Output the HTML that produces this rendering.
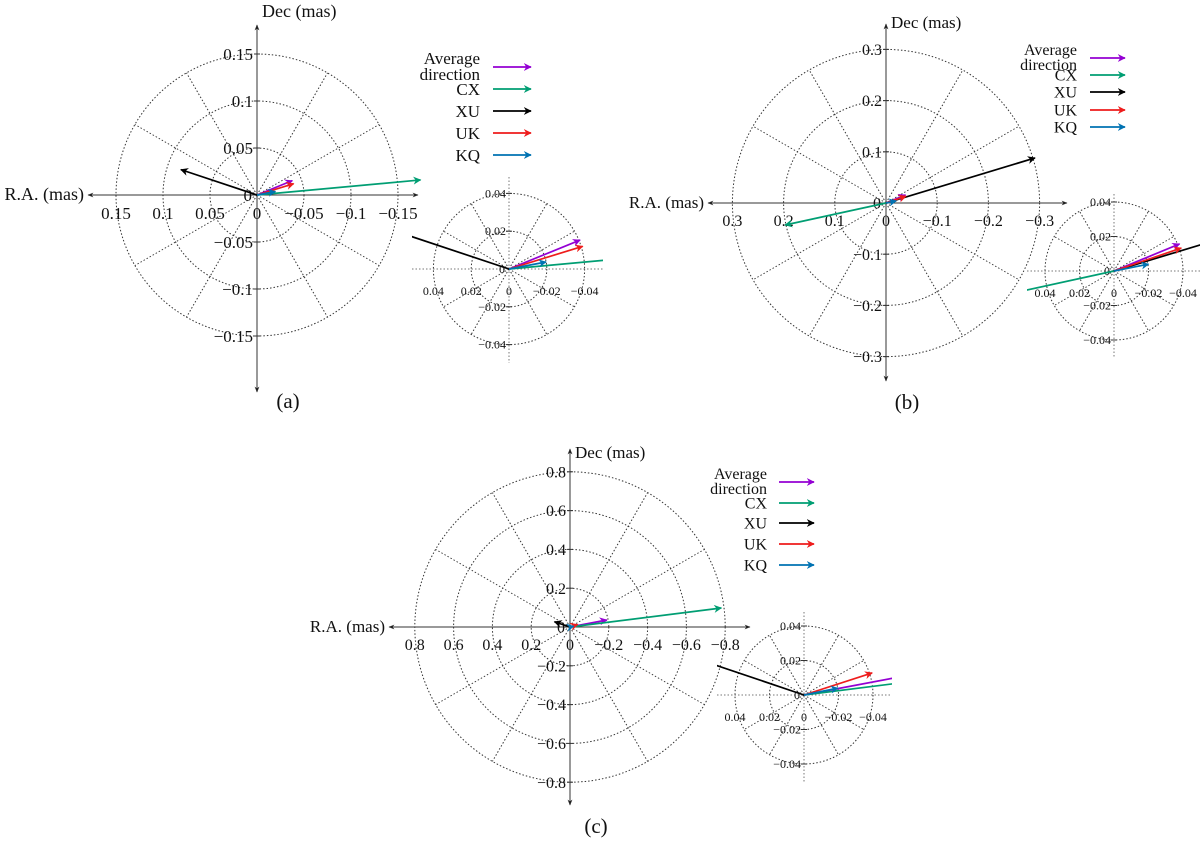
<!DOCTYPE html>
<html><head><meta charset="utf-8"><style>
body{margin:0;background:#fff}
svg{display:block}
text{font-family:"Liberation Serif",serif;fill:#111}
</style></head><body>
<svg id="fig" width="1200" height="844" viewBox="0 0 1200 844" xmlns="http://www.w3.org/2000/svg">
<defs id="defs"></defs>
</svg>
<script>
const seriesNames = ["Average direction","CX","XU","UK","KQ"];
const seriesKeys = ["average","cx","xu","uk","kq"];
const seriesColors = ["#9400d3","#009e73","#000000","#ee1c1c","#0072b2"];
const panelA_ra = [-0.0376,-0.174,0.081,-0.039,-0.0196];
const panelA_dec = [0.0153,0.016,0.027,0.012,0.0037];
const panelB_ra = [-0.038,0.197,-0.291,-0.039,-0.020];
const panelB_dec = [0.0157,-0.043,0.088,0.0133,0.004];
const panelC_ra = [-0.19,-0.78,0.08,-0.0395,-0.0197];
const panelC_dec = [0.036,0.098,0.027,0.0128,0.004];
const ringsA = [0.05,0.1,0.15];
const ringsB = [0.1,0.2,0.3];
const ringsC = [0.2,0.4,0.6,0.8];
const ticksA = [0.15,0.1,0.05,0,-0.05,-0.1,-0.15];
const ticksB = [0.3,0.2,0.1,0,-0.1,-0.2,-0.3];
const ticksC = [0.8,0.6,0.4,0.2,0,-0.2,-0.4,-0.6,-0.8];
const insetRings = [0.02,0.04];
const insetTicks = [0.04,0.02,0,-0.02,-0.04];

const NS="http://www.w3.org/2000/svg";
const svg=document.getElementById('fig');
const defs=document.getElementById('defs');
function mk(tag,attrs,parent){const e=document.createElementNS(NS,tag);for(const k in attrs)e.setAttribute(k,attrs[k]);(parent||svg).appendChild(e);return e;}
function fmt(v){if(v===0)return "0";const s=String(Math.abs(v));return (v<0?"\u2212":"")+s;}

seriesColors.forEach((c,i)=>{
  const m=mk('marker',{id:'ah'+i,viewBox:'0 0 10 10',refX:'9',refY:'5',markerWidth:'8',markerHeight:'8',orient:'auto',markerUnits:'userSpaceOnUse'},defs);
  mk('path',{d:'M0,0 L10,5 L0,10 L3,5 Z',fill:c},m);
});
mk('marker',{id:'axh',viewBox:'0 0 10 10',refX:'9',refY:'5',markerWidth:'6',markerHeight:'6',orient:'auto',markerUnits:'userSpaceOnUse'},defs).appendChild(
  (()=>{const p=document.createElementNS(NS,'path');p.setAttribute('d','M0,1 L10,5 L0,9 L3,5 Z');p.setAttribute('fill','#222');return p;})());

function drawMain(p){
  const g=mk('g',{});
  
  
  const X=v=>p.cx - v*p.s, Y=v=>p.cy - v*p.s;
  p.rings.forEach(r=>{
    const c=mk('circle',{cx:p.cx,cy:p.cy,r:r*p.s,fill:'none',stroke:'#333','stroke-width':1,'stroke-dasharray':'1.5 2'},g);
    
    
  });
  const R=p.rings[p.rings.length-1]*p.s;
  for(let a=30;a<360;a+=30){ if(a%90===0)continue;
    const t=a*Math.PI/180;
    const l=mk('line',{x1:p.cx,y1:p.cy,x2:p.cx+R*Math.cos(t),y2:p.cy-R*Math.sin(t),stroke:'#333','stroke-width':1,'stroke-dasharray':'1.5 2'},g);
    
    
  }
  const ax=mk('line',{x1:p.ax[1],y1:p.cy,x2:p.ax[0],y2:p.cy,stroke:'#333','stroke-width':1,'marker-end':'url(#axh)'},g);
  
  
  mk('line',{x1:p.ax[0]+6,y1:p.cy,x2:p.ax[1],y2:p.cy,stroke:'#333','stroke-width':1,'marker-end':'url(#axh)'},g);
  const ay=mk('line',{x1:p.cx,y1:p.ay[1],x2:p.cx,y2:p.ay[0],stroke:'#333','stroke-width':1,'marker-end':'url(#axh)'},g);
  
  
  mk('line',{x1:p.cx,y1:p.ay[0]+6,x2:p.cx,y2:p.ay[1],stroke:'#333','stroke-width':1,'marker-end':'url(#axh)'},g);
  p.ticks.forEach(v=>{
    const t=mk('text',{x:X(v),y:p.cy+p.fs+7,'font-size':p.fs,'text-anchor':'middle'},g);
    t.textContent=fmt(v);
    
    
    if(v!==0){
      mk('line',{x1:p.cx-3,y1:Y(v),x2:p.cx+3,y2:Y(v),stroke:'#333'},g);
      const ty=mk('text',{x:p.cx-4,y:Y(v)+p.fs*0.35,'font-size':p.fs,'text-anchor':'end'},g);
      ty.textContent=fmt(v);
      
      
    }
  });
  const z=mk('text',{x:p.cx-5,y:p.cy+p.fs*0.35,'font-size':p.fs,'text-anchor':'end'},g);z.textContent='0';
  const dl=mk('text',{x:p.cx+5,y:p.decY,'font-size':p.fs+1},g);dl.textContent='Dec (mas)';
  
  
  const rl=mk('text',{x:p.ax[0]-4,y:p.cy+5,'font-size':p.fs+1,'text-anchor':'end'},g);rl.textContent='R.A. (mas)';
  
  
  p.ra.forEach((v,i)=>{
    const l=mk('line',{x1:p.cx,y1:p.cy,x2:X(v),y2:Y(p.dec[i]),stroke:seriesColors[i],'stroke-width':1.7,'marker-end':'url(#ah'+i+')'},g);
    
    
  });
  const lg=mk('g',{},g);
  
  
  p.leg.rows.forEach((y,i)=>{
    if(i===0){
      const t1=mk('text',{x:p.leg.tx,y:y-3,'font-size':p.lfs,'text-anchor':'end'},lg);t1.textContent='Average';
      const t2=mk('text',{x:p.leg.tx,y:y+p.lfs-4,'font-size':p.lfs,'text-anchor':'end'},lg);t2.textContent='direction';
    } else {
      const t=mk('text',{x:p.leg.tx,y:y+p.lfs*0.35,'font-size':p.lfs,'text-anchor':'end'},lg);t.textContent=seriesNames[i];
    }
    const a=mk('line',{x1:p.leg.a1,y1:y,x2:p.leg.a2,y2:y,stroke:seriesColors[i],'stroke-width':1.7,'marker-end':'url(#ah'+i+')'},lg);
    
    
  });
  const cap=mk('text',{x:p.cap[0],y:p.cap[1],'font-size':21,'text-anchor':'middle'},g);cap.textContent=p.capText;
  
  
  const q=p.inset;
  const ig=mk('g',{},g);
  
  
  const IX=v=>q.cx - v*q.s, IY=v=>q.cy - v*q.s;
  const cid='clip'+p.id;
  const cp=mk('clipPath',{id:cid},defs);
  mk('rect',{x:q.x0,y:q.y0,width:q.x1-q.x0,height:q.y1-q.y0},cp);
  insetRings.forEach(r=>mk('circle',{cx:q.cx,cy:q.cy,r:r*q.s,fill:'none',stroke:'#333','stroke-width':1,'stroke-dasharray':'1.5 2'},ig));
  const IR=0.04*q.s;
  for(let a=30;a<360;a+=30){ if(a%90===0)continue;
    const t=a*Math.PI/180;
    mk('line',{x1:q.cx,y1:q.cy,x2:q.cx+IR*Math.cos(t),y2:q.cy-IR*Math.sin(t),stroke:'#333','stroke-width':1,'stroke-dasharray':'1.5 2'},ig);
  }
  mk('line',{x1:q.x0,y1:q.cy,x2:q.x1,y2:q.cy,stroke:'#777','stroke-width':1,'stroke-dasharray':'1.5 2'},ig);
  mk('line',{x1:q.cx,y1:q.y0,x2:q.cx,y2:q.y1,stroke:'#777','stroke-width':1,'stroke-dasharray':'1.5 2'},ig);
  insetTicks.forEach(v=>{
    const t=mk('text',{x:IX(v),y:q.cy+26,'font-size':12,'text-anchor':'middle'},ig);t.textContent=fmt(v);
    if(v!==0){
      mk('line',{x1:q.cx-3,y1:IY(v),x2:q.cx+3,y2:IY(v),stroke:'#333'},ig);
      const ty=mk('text',{x:q.cx-3,y:IY(v)+4,'font-size':12,'text-anchor':'end'},ig);ty.textContent=fmt(v);
    }
  });
  const iz=mk('text',{x:q.cx-4,y:q.cy+4,'font-size':12,'text-anchor':'end'},ig);iz.textContent='0';
  const vg=mk('g',{'clip-path':'url(#'+cid+')'},ig);
  p.ra.forEach((v,i)=>{
    const l=mk('line',{x1:q.cx,y1:q.cy,x2:IX(v),y2:IY(p.dec[i]),stroke:seriesColors[i],'stroke-width':1.7,'marker-end':'url(#ah'+i+')'},vg);
    
    
  });
}

drawMain({id:'a',cx:257,cy:195,s:940,rings:ringsA,ticks:ticksA,ra:panelA_ra,dec:panelA_dec,
  ax:[88,418],ay:[25,392],fs:17,decY:17,lfs:17,
  leg:{tx:480,a1:493,a2:531,rows:[67,89,111,133,155]},cap:[288,408],capText:'(a)',
  inset:{cx:509,cy:269,s:1890,x0:412,x1:603,y0:177,y1:363}});
drawMain({id:'b',cx:886,cy:203,s:512,rings:ringsB,ticks:ticksB,ra:panelB_ra,dec:panelB_dec,
  ax:[708,1067],ay:[24,381],fs:16,decY:28,lfs:16,
  leg:{tx:1077,a1:1090,a2:1125,rows:[58,75,92,110,127]},cap:[907,409],capText:'(b)',
  inset:{cx:1114,cy:271,s:1725,x0:1027,x1:1200,y0:194,y1:357}});
drawMain({id:'c',cx:570,cy:627,s:194,rings:ringsC,ticks:ticksC,ra:panelC_ra,dec:panelC_dec,
  ax:[389,750],ay:[449,805],fs:16,decY:458,lfs:16,
  leg:{tx:767,a1:779,a2:814,rows:[482,503,523,544,565]},cap:[596,833],capText:'(c)',
  inset:{cx:804,cy:695,s:1725,x0:717,x1:892,y0:612,y1:782}});
</script>
</body></html>
